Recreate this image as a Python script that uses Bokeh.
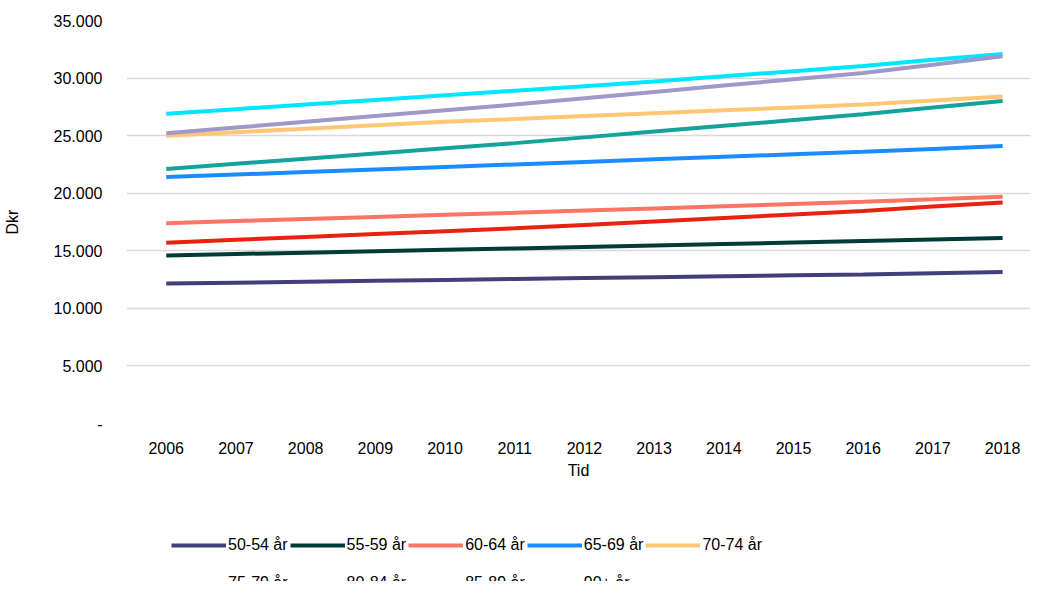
from bokeh.plotting import figure
from bokeh.layouts import column
from bokeh.models import Legend, LegendItem, CustomJSTickFormatter, FixedTicker
from bokeh.embed import file_html
from bokeh.resources import INLINE

years = list(range(2006, 2019))

series = {
    "50-54 år": [12150, 12230, 12310, 12390, 12470, 12550, 12630, 12710, 12790, 12870, 12950, 13050, 13150],
    "55-59 år": [14600, 14720, 14840, 14960, 15080, 15200, 15330, 15460, 15590, 15720, 15850, 15980, 16100],
    "60-64 år": [17400, 17580, 17760, 17940, 18120, 18300, 18490, 18680, 18870, 19060, 19250, 19470, 19700],
    "65-69 år": [21400, 21620, 21840, 22060, 22280, 22500, 22720, 22940, 23160, 23380, 23600, 23850, 24100],
    "70-74 år": [25000, 25300, 25600, 25900, 26200, 26450, 26700, 26950, 27200, 27450, 27700, 28050, 28400],
    "75-79 år": [26900, 27300, 27700, 28100, 28500, 28900, 29300, 29700, 30150, 30600, 31050, 31600, 32100],
    "80-84 år": [25200, 25700, 26200, 26700, 27200, 27700, 28250, 28800, 29350, 29900, 30450, 31150, 31900],
    "85-89 år": [22100, 22550, 23000, 23450, 23900, 24350, 24850, 25350, 25850, 26350, 26850, 27450, 28000],
    "90+ år": [15700, 15950, 16200, 16450, 16700, 16950, 17250, 17550, 17850, 18150, 18450, 18850, 19200],
}
colors = ["#433f7a", "#003b35", "#fb7564", "#1a8cff", "#ffc773",
          "#00e6ff", "#9f98c9", "#14a39a", "#e8220f"]

p = figure(frame_width=904, frame_height=403, x_range=(2005.43, 2018.4), y_range=(0, 35000),
           output_backend="svg", toolbar_location=None, min_border_left=0,
           min_border_top=20, min_border_right=2, min_border_bottom=0)
p.outline_line_color = None
p.xgrid.visible = False
p.ygrid.grid_line_color = "#d9d9d9"
p.ygrid.grid_line_width = 1.5

for (name, vals), c in zip(series.items(), colors):
    p.line(years, vals, line_color=c, line_width=4)

font = "Liberation Sans"
for ax in (p.xaxis, p.yaxis):
    ax.axis_line_color = None
    ax.major_tick_line_color = None
    ax.minor_tick_line_color = None
    ax.major_label_text_font = font
    ax.major_label_text_font_size = "16px"
    ax.major_label_text_color = "#000000"
    ax.axis_label_text_font = font
    ax.axis_label_text_font_size = "16px"
    ax.axis_label_text_font_style = "normal"
    ax.axis_label_text_color = "#000000"
p.xaxis.ticker = FixedTicker(ticks=years)
p.xaxis.major_label_standoff = 12
p.yaxis.ticker = FixedTicker(ticks=list(range(0, 35001, 5000)))
p.yaxis.formatter = CustomJSTickFormatter(code="""
if (tick == 0) return '-';
return tick.toString().replace(/\\B(?=(\\d{3})+(?!\\d))/g, '.');
""")
p.xaxis.axis_label = "Tid"
p.yaxis.axis_label = "Dkr"
p.yaxis.axis_label_standoff = 30
p.yaxis.major_label_standoff = 18

# legend lives in its own strip below the chart
leg = figure(width=1024, height=100, x_range=(0, 1), y_range=(0, 1),
             output_backend="svg", toolbar_location=None, min_border=0)
leg.axis.visible = False
leg.grid.visible = False
leg.outline_line_color = None
items = []
for (name, vals), c in zip(series.items(), colors):
    r = leg.line(years, vals, line_color=c, line_width=4)
    items.append(LegendItem(label=name, renderers=[r]))
lg = Legend(items=items, orientation="horizontal", ncols=5, location=(45, -20),
            label_text_font=font, label_text_font_size="16px",
            label_text_color="#000000", background_fill_alpha=0,
            glyph_width=55, glyph_height=20, spacing=2, padding=0, margin=0,
            border_line_color=None, label_standoff=2, label_height=36)
leg.add_layout(lg)

open("out.html", "w").write(file_html(column(p, leg, spacing=0), INLINE))
